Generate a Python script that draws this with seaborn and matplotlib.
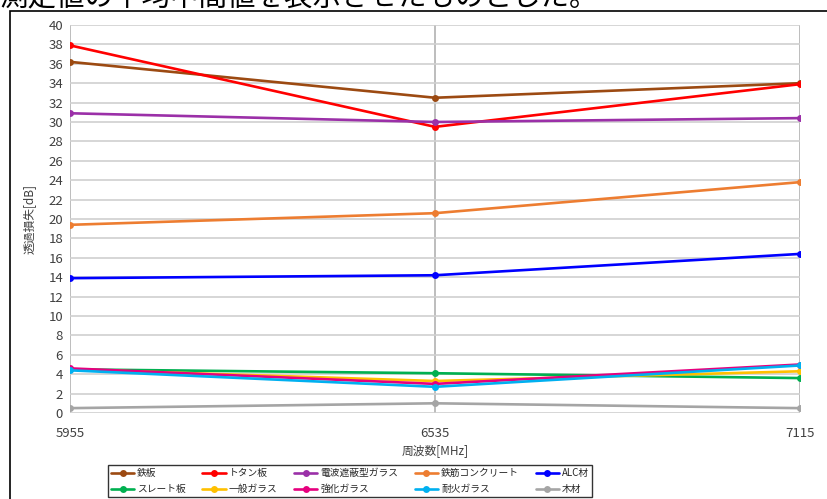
import pandas as pd
import seaborn as sns
import matplotlib.pyplot as plt
from matplotlib.patches import Rectangle

# data
freq = [5955, 6535, 7115]
materials = ['鉄板', 'トタン板', '電波遮蔽型ガラス', '鉄筋コンクリート', 'ALC材',
             'スレート板', '一般ガラス', '強化ガラス', '耐火ガラス', '木材']
teppan = [36.2, 32.5, 34.0]
totan = [37.9, 29.5, 33.9]
shahei_glass = [30.9, 30.0, 30.4]
concrete = [19.4, 20.6, 23.8]
alc = [13.9, 14.2, 16.4]
slate = [4.5, 4.1, 3.6]
ippan_glass = [4.5, 3.3, 4.3]
kyoka_glass = [4.6, 3.0, 5.0]
taika_glass = [4.4, 2.7, 4.9]
mokuzai = [0.5, 1.0, 0.5]
colors = ['#9C4A12', '#FF0000', '#9B30A8', '#ED7D31', '#0000FF',
          '#00B050', '#FFC000', '#E6007E', '#00B0F0', '#A5A5A5']

values = [teppan, totan, shahei_glass, concrete, alc,
          slate, ippan_glass, kyoka_glass, taika_glass, mokuzai]
rows = []
for m, v in zip(materials, values):
    for f, y in zip(freq, v):
        rows.append({'周波数': f, '透過損失': y, '材質': m})
df = pd.DataFrame(rows)

sns.set_style('white')
plt.rcParams['font.family'] = ['Noto Sans CJK JP', 'DejaVu Sans']

fig = plt.figure(figsize=(8.27, 4.99), dpi=100)
ax = fig.add_axes([70/827, 1-413/499, 730/827, 388/499])

sns.lineplot(data=df, x='周波数', y='透過損失', hue='材質', hue_order=materials,
             palette=colors, marker='o', markersize=5, markeredgewidth=0,
             linewidth=1.9, ax=ax, legend=True)

ax.set_xlim(5955, 7115)
ax.set_ylim(0, 40)
ax.set_xticks(freq)
ax.set_xticklabels([str(f) for f in freq])
ax.set_yticks(range(0, 41, 2))
ax.grid(True, axis='y', color='#D0D0D0', linewidth=1.2)
for f in freq:
    ax.axvline(f, color='#B8B8B8', linewidth=1.3, zorder=0)
ax.set_axisbelow(True)
for s in ax.spines.values():
    s.set_visible(False)
ax.tick_params(axis='y', length=0, labelsize=9.5, colors='#404040', pad=5)
ax.tick_params(axis='x', length=0, labelsize=9.5, colors='#404040', pad=10)
ax.set_xlabel('周波数[MHz]', fontsize=8.5, color='#404040', labelpad=3)
ax.set_ylabel('透過損失[dB]', fontsize=8.5, color='#404040', labelpad=9)

# legend, row-wise order in 5 columns
h, l = ax.get_legend_handles_labels()
order = []
for c in range(5):
    order += [c, c + 5]
leg = ax.legend([h[i] for i in order], [l[i] for i in order], ncol=5,
                loc='upper left', bbox_to_anchor=(108/827, 1-465/499),
                bbox_transform=fig.transFigure, fontsize=7, frameon=True,
                fancybox=False, edgecolor='black', handlelength=2.4,
                columnspacing=1.7, handletextpad=0.3, borderpad=0.3,
                labelspacing=0.65, borderaxespad=0)
leg.get_frame().set_linewidth(1.0)

# outer frame and the clipped title of the screenshot
fig.patches.append(Rectangle((10/827, -0.1), 1.0, (499-11)/499 + 0.1,
                             transform=fig.transFigure, fill=False,
                             edgecolor='black', linewidth=1.2))
fig.text(0.0, 1+3/499, '測定値の平均中間値を表示させたものとした。', fontsize=20.5,
         va='center', ha='left', color='black')

fig.savefig('out.png', dpi=100)
